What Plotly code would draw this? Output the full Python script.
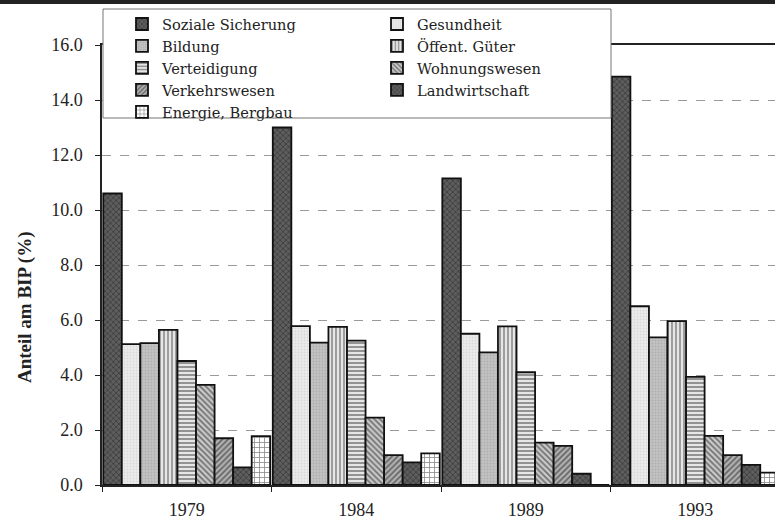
import plotly.graph_objects as go

years = ["1979", "1984", "1989", "1993"]
series_names = [
    "Soziale Sicherung", "Gesundheit", "Bildung", "Öffent. Güter",
    "Verteidigung", "Wohnungswesen", "Verkehrswesen", "Landwirtschaft",
    "Energie, Bergbau",
]
soziale = [10.6, 13.0, 11.15, 14.85]
gesundheit = [5.12, 5.78, 5.5, 6.5]
bildung = [5.16, 5.18, 4.82, 5.37]
oeffent = [5.64, 5.75, 5.77, 5.96]
verteidigung = [4.51, 5.25, 4.1, 3.93]
wohnung = [3.64, 2.45, 1.54, 1.79]
verkehr = [1.7, 1.09, 1.42, 1.09]
landwirt = [0.64, 0.82, 0.41, 0.73]
energie = [1.78, 1.15, 0.0, 0.45]
values = [soziale, gesundheit, bildung, oeffent, verteidigung, wohnung,
          verkehr, landwirt, energie]
y_ticks = [0, 2, 4, 6, 8, 10, 12, 14, 16]

styles = [
    dict(shape="x", fg="#151515", bg="#5e5e5e", size=4, sol=0.35),
    dict(shape=".", fg="#c8c8c8", bg="#ebebeb", size=3, sol=0.3),
    dict(shape=".", fg="#9a9a9a", bg="#c2c2c2", size=3, sol=0.3),
    dict(shape="|", fg="#151515", bg="#e6e6e6", size=4, sol=0.35),
    dict(shape="-", fg="#151515", bg="#e6e6e6", size=4, sol=0.4),
    dict(shape="\\", fg="#151515", bg="#c8c8c8", size=4, sol=0.4),
    dict(shape="/", fg="#151515", bg="#b0b0b0", size=4, sol=0.4),
    dict(shape="x", fg="#151515", bg="#5e5e5e", size=4, sol=0.35),
    dict(shape="+", fg="#151515", bg="#ffffff", size=5, sol=0.3),
]

fig = go.Figure()
for name, vals, st in zip(series_names, values, styles):
    fig.add_trace(go.Bar(
        name=name, x=years, y=vals,
        marker=dict(
            color=st["bg"],
            line=dict(color="#111111", width=1.8),
            pattern=dict(shape=st["shape"], fgcolor=st["fg"], bgcolor=st["bg"],
                         size=st["size"], solidity=st["sol"], fillmode="overlay"),
        ),
    ))

W, H = 775, 519
L, R, T, B = 102, 0, 45, 34
pw, ph = W - L - R, H - T - B


def px_x(p):
    return (p - L) / pw


def px_y(p):
    return (H - B - p) / ph


serif = "Liberation Serif, Times New Roman, serif"
legend_font = "DejaVu Serif, Liberation Serif, serif"

fig.update_layout(
    width=W, height=H,
    margin=dict(l=L, r=R, t=T, b=B),
    paper_bgcolor="white", plot_bgcolor="white",
    barmode="group", bargap=0.015, bargroupgap=0,
    font=dict(family=serif, color="#222222", size=17),
    showlegend=True,
    legend=dict(
        orientation="h", x=px_x(122), y=px_y(8), xanchor="left", yanchor="top",
        bgcolor="rgba(0,0,0,0)", borderwidth=0,
        entrywidth=210, entrywidthmode="pixels",
        font=dict(family=legend_font, size=14.6, color="#222222"),
        traceorder="normal",
    ),
    xaxis=dict(
        type="category", range=[-0.5, 3.47],
        showline=True, linecolor="#222222", linewidth=1.5, mirror=True,
        ticks="outside", ticklen=5, tickcolor="#222222", tickson="boundaries",
        tickfont=dict(family=serif, size=18, color="#222222"),
        ticklabelstandoff=8,
        showgrid=False, zeroline=False,
    ),
    yaxis=dict(
        range=[0, 16], tickvals=y_ticks, tickformat=".1f",
        showline=True, linecolor="#222222", linewidth=1.5,
        ticks="outside", ticklen=5, tickcolor="#222222",
        tickfont=dict(family=serif, size=18, color="#222222"),
        ticklabelstandoff=9,
        showgrid=True, gridcolor="#9a9a9a", griddash="dash", gridwidth=1,
        zeroline=False,
    ),
    shapes=[
        dict(type="rect", xref="paper", yref="paper",
             x0=px_x(-5), x1=px_x(W + 5), y0=px_y(4), y1=px_y(-2),
             fillcolor="#222222", line=dict(width=0), layer="above"),
        dict(type="rect", xref="paper", yref="paper",
             x0=px_x(103), x1=px_x(611), y0=px_y(118), y1=px_y(9),
             fillcolor="white", line=dict(color="#777777", width=1),
             layer="above"),
    ],
    annotations=[
        dict(text="<b>Anteil am BIP (%)</b>", textangle=-90,
             xref="paper", yref="paper", x=px_x(25), y=px_y(308),
             xanchor="center", yanchor="middle", showarrow=False,
             font=dict(family=serif, size=19, color="#222222")),
    ],
)

fig.write_html(
    "out.html",
    config={"displayModeBar": False},
    post_script="document.body.style.margin='0';document.body.style.overflow='hidden';",
)
